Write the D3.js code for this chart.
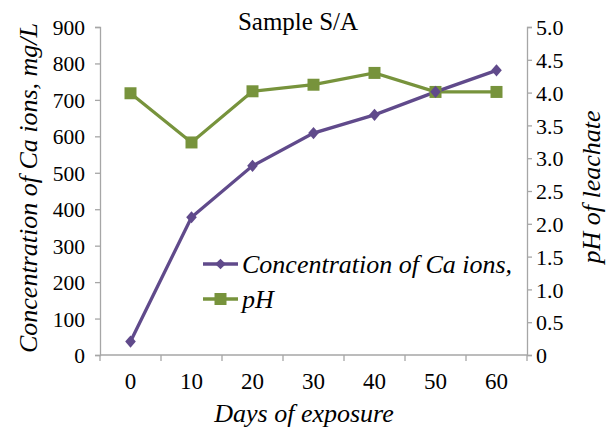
<!DOCTYPE html>
<html>
<head>
<meta charset="utf-8">
<script src="https://cdn.jsdelivr.net/npm/d3@7"></script>
<style>
  body { margin: 0; background: #fff; }
</style>
</head>
<body>
<div id="chart"></div>
<script>
// data
const days = [0, 10, 20, 30, 40, 50, 60];
const caValues = [37, 378, 519, 609, 659, 722, 781];
const phValues = [3.99, 3.24, 4.02, 4.12, 4.30, 4.01, 4.01];
const caTicks = [0, 100, 200, 300, 400, 500, 600, 700, 800, 900];
const phTicks = [0, 0.5, 1.0, 1.5, 2.0, 2.5, 3.0, 3.5, 4.0, 4.5, 5.0];

const width = 611;
const height = 430;
const margin = { top: 27, right: 84, bottom: 75, left: 100 };

const purple = "#604a8b";
const green = "#77933c";
const axisColor = "#a6a6a6";
const serif = "Liberation Serif";

const svg = d3.select("#chart")
  .append("svg")
  .attr("width", width)
  .attr("height", height)
  .attr("font-family", serif);

// scales
const x = d3.scaleBand()
  .domain(days)
  .range([margin.left, width - margin.right]);

const yCa = d3.scaleLinear()
  .domain([0, 900])
  .range([height - margin.bottom, margin.top]);

const yPh = d3.scaleLinear()
  .domain([0, 5])
  .range([height - margin.bottom, margin.top]);

// axes
const styleAxis = size => g => {
  g.attr("font-family", serif).attr("font-size", size);
  g.selectAll("path, line").attr("stroke", axisColor).attr("stroke-width", 1.3);
  g.selectAll("text")
    .attr("font-family", serif)
    .attr("font-size", size)
    .attr("fill", "#000")
    .attr("dy", "0.35em");
};

svg.append("g")
  .attr("transform", `translate(${margin.left},0)`)
  .call(d3.axisLeft(yCa).tickValues(caTicks).tickSize(5).tickSizeOuter(5).tickPadding(10))
  .call(styleAxis(21.5));

svg.append("g")
  .attr("transform", `translate(${width - margin.right},0)`)
  .call(d3.axisRight(yPh).tickValues(phTicks).tickSize(5).tickSizeOuter(5).tickPadding(4)
    .tickFormat(d => d === 0 ? "0" : d3.format(".1f")(d)))
  .call(styleAxis(22));

// bottom axis with ticks on band edges
const xAxis = svg.append("g")
  .attr("transform", `translate(0,${height - margin.bottom})`);

xAxis.append("line")
  .attr("x1", margin.left)
  .attr("x2", width - margin.right)
  .attr("stroke", axisColor)
  .attr("stroke-width", 1.3);

const edges = days.map(d => x(d)).concat([x(days[days.length - 1]) + x.bandwidth()]);
xAxis.selectAll(".edge")
  .data(edges)
  .enter()
  .append("line")
  .attr("x1", d => d)
  .attr("x2", d => d)
  .attr("y1", 0)
  .attr("y2", 6)
  .attr("stroke", axisColor)
  .attr("stroke-width", 1.3);

xAxis.selectAll(".lbl")
  .data(days)
  .enter()
  .append("text")
  .attr("x", d => x(d) + x.bandwidth() / 2)
  .attr("y", 34)
  .attr("text-anchor", "middle")
  .attr("font-family", serif)
  .attr("font-size", 23)
  .text(d => d);

// titles
svg.append("text")
  .attr("x", 298)
  .attr("y", 30)
  .attr("text-anchor", "middle")
  .attr("font-family", serif)
  .attr("font-size", 25)
  .text("Sample S/A");

svg.append("text")
  .attr("x", 304)
  .attr("y", 422)
  .attr("text-anchor", "middle")
  .attr("font-family", serif)
  .attr("font-style", "italic")
  .attr("font-size", 26)
  .text("Days of exposure");

svg.append("text")
  .attr("transform", "translate(37,188) rotate(-90)")
  .attr("text-anchor", "middle")
  .attr("font-family", serif)
  .attr("font-style", "italic")
  .attr("font-size", 26)
  .text("Concentration of Ca ions, mg/L");

svg.append("text")
  .attr("transform", "translate(600,187) rotate(-90)")
  .attr("text-anchor", "middle")
  .attr("font-family", serif)
  .attr("font-style", "italic")
  .attr("font-size", 26)
  .text("pH of leachate");

// lines
const cx = d => x(d) + x.bandwidth() / 2;

const caLine = d3.line()
  .x((d, i) => cx(days[i]))
  .y(d => yCa(d));

const phLine = d3.line()
  .x((d, i) => cx(days[i]))
  .y(d => yPh(d));

svg.append("path")
  .datum(phValues)
  .attr("fill", "none")
  .attr("stroke", green)
  .attr("stroke-width", 3.3)
  .attr("d", phLine);

svg.append("path")
  .datum(caValues)
  .attr("fill", "none")
  .attr("stroke", purple)
  .attr("stroke-width", 3.3)
  .attr("d", caLine);

// markers
const diamond = d3.symbol().type(d3.symbolDiamond2).size(72);
const square = d3.symbol().type(d3.symbolSquare).size(144);

svg.selectAll(".ph-pt")
  .data(phValues)
  .enter()
  .append("path")
  .attr("d", square)
  .attr("transform", (d, i) => `translate(${cx(days[i])},${yPh(d)})`)
  .attr("fill", green);

svg.selectAll(".ca-pt")
  .data(caValues)
  .enter()
  .append("path")
  .attr("d", diamond)
  .attr("transform", (d, i) => `translate(${cx(days[i])},${yCa(d)}) scale(1,1.15)`)
  .attr("fill", purple);

// legend
const legend = [
  { label: "Concentration of Ca ions,", color: purple, symbol: diamond, y: 264 },
  { label: "pH", color: green, symbol: square, y: 299 }
];

const lg = svg.selectAll(".legend")
  .data(legend)
  .enter()
  .append("g")
  .attr("transform", d => `translate(0,${d.y})`);

lg.append("line")
  .attr("x1", 203)
  .attr("x2", 238)
  .attr("stroke", d => d.color)
  .attr("stroke-width", 3.3);

lg.append("path")
  .attr("d", d => d.symbol())
  .attr("transform", "translate(220.5,0)")
  .attr("fill", d => d.color);

lg.append("text")
  .attr("x", 242)
  .attr("y", 9)
  .attr("font-family", serif)
  .attr("font-style", "italic")
  .attr("font-size", 26)
  .text(d => d.label);
</script>
</body>
</html>
